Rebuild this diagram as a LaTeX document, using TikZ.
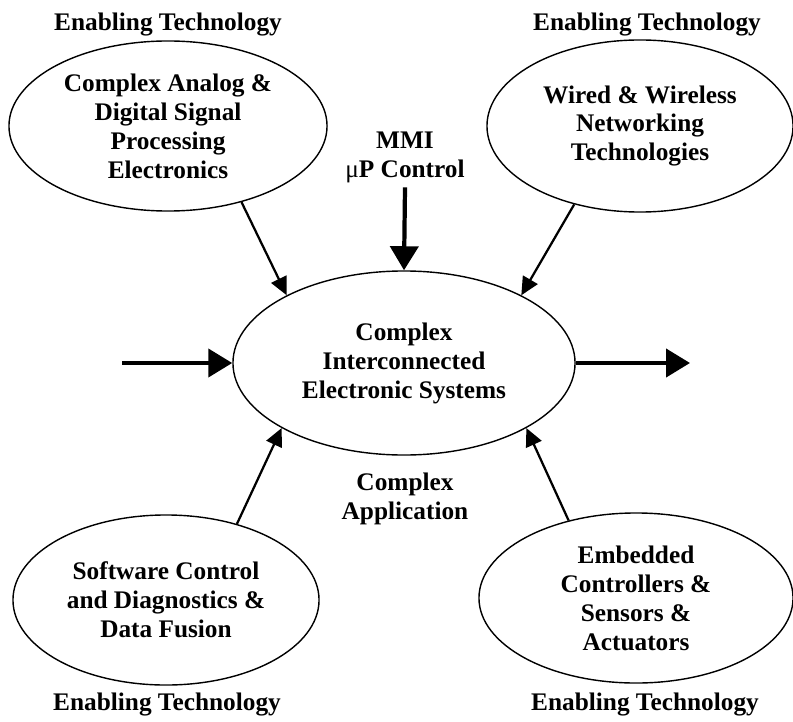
\documentclass[tikz,border=0pt]{standalone}
\usepackage{fontspec}
\setmainfont{Liberation Serif}
\usetikzlibrary{arrows.meta,shapes.geometric}

\begin{document}
\begin{tikzpicture}[x=0.025cm,y=-0.025cm, every node/.style={font=\bfseries\fontsize{18}{20.6}\selectfont,align=center},
  tech/.style={draw,ellipse,line width=1pt,inner sep=0pt,minimum height=4.25cm},
  bigarrow/.style={line width=3pt,-{Triangle[length=0.6cm,width=0.7cm]}},
  smallarrow/.style={line width=1.6pt,-{Triangle[length=0.45cm,width=0.42cm]}}]
\useasboundingbox (0,0) rectangle (793,721);

\node[tech,minimum width=8.55cm,minimum height=4.6cm] (c) at (404,363) {Complex\\Interconnected\\Electronic Systems};
\node[tech,minimum width=7.95cm] (tl) at (168,126) {Complex Analog \&\\Digital Signal\\Processing\\Electronics};
\node[tech,minimum width=7.65cm,minimum height=4.3cm] (tr) at (640,126) {Wired \& Wireless\\Networking\\Technologies};
\node[tech,minimum width=7.65cm] (bl) at (166,600) {Software Control\\and Diagnostics \&\\Data Fusion};
\node[tech,minimum width=7.85cm] (br) at (636,598) {Embedded\\Controllers \&\\Sensors \&\\Actuators};

\node (tllab) at (168,25) {Enabling Technology};
\node (trlab) at (647,25) {Enabling Technology};
\node (bllab) at (167,705) {Enabling Technology};
\node (brlab) at (645,705) {Enabling Technology};
\node (mmi) at (405,157) {MMI\\{\mdseries μ}P Control};
\node (app) at (405,499) {Complex\\Application};

\coordinate (in) at (122,363);
\coordinate (out) at (690,363);

\draw[bigarrow] (in) -- (c.west);
\draw[bigarrow] (c.east) -- (out);
\draw[bigarrow] (mmi.south) -- (c.north);
\draw[smallarrow] (tl.-46) -- (c.150);
\draw[smallarrow] (tr.-130) -- (c.30);
\draw[smallarrow] (bl.47) -- (c.-152);
\draw[smallarrow] (br.131) -- (c.-28);
\end{tikzpicture}
\end{document}
